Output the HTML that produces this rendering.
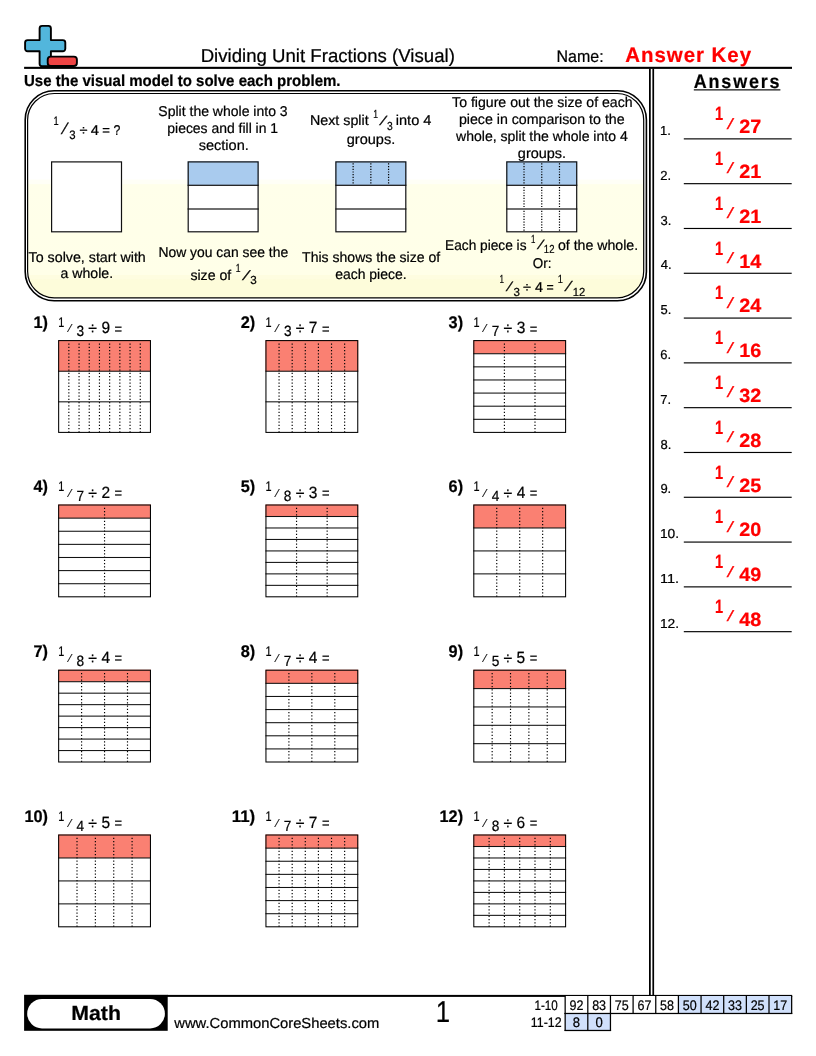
<!DOCTYPE html>
<html lang="en"><head><meta charset="utf-8"><title>Dividing Unit Fractions (Visual)</title>
<style>
html,body{margin:0;padding:0;background:#fff}
svg{display:block;font-family:"Liberation Sans",sans-serif;fill:#000}
text{white-space:pre;stroke:#000;stroke-width:.22px;text-rendering:geometricPrecision}
text.r{stroke:#f00}
</style></head><body>
<svg width="816" height="1056" viewBox="0 0 816 1056">
<rect width="816" height="1056" fill="#fff"/>
<g stroke="#000" stroke-width="1.9" stroke-linejoin="round">
<path fill="#52b6dc" d="M42.1 25.9h6.3a2.5 2.5 0 0 1 2.5 2.5v11.7h11.9a2.5 2.5 0 0 1 2.5 2.5v6.2a2.5 2.5 0 0 1 -2.5 2.5h-11.9v12.5a2.5 2.5 0 0 1 -2.5 2.5h-6.3a2.5 2.5 0 0 1 -2.5 -2.5v-12.5h-12a2.5 2.5 0 0 1 -2.5 -2.5v-6.2a2.5 2.5 0 0 1 2.5 -2.5h12v-11.7a2.5 2.5 0 0 1 2.5 -2.5z"/>
<rect x="47.7" y="56.6" width="29.2" height="9.4" rx="3" ry="3" fill="#ee4444"/>
</g>
<rect x="24.10" y="66.80" width="767.90" height="2.10" fill="#000"/>
<text x="200.67" y="61.70" font-size="18.70" textLength="254.18" lengthAdjust="spacingAndGlyphs">Dividing Unit Fractions (Visual)</text>
<text x="556.59" y="61.60" font-size="16.80" textLength="47.07" lengthAdjust="spacingAndGlyphs">Name:</text>
<text x="625.19" y="61.60" font-size="21.00" font-weight="700" fill="#f00" class="r" letter-spacing="1.00" textLength="126.89" lengthAdjust="spacingAndGlyphs">Answer Key</text>
<text x="24.00" y="85.50" font-size="15.90" font-weight="700" textLength="316.54" lengthAdjust="spacingAndGlyphs">Use the visual model to solve each problem.</text>
<text x="693.75" y="87.60" font-size="19.50" font-weight="700" letter-spacing="2.00" textLength="87.62" lengthAdjust="spacingAndGlyphs">Answers</text>
<rect x="693.80" y="89.30" width="86.60" height="1.15" fill="#000"/>
<rect x="649.00" y="68.50" width="1.75" height="927.00" fill="#000"/>
<rect x="652.40" y="68.50" width="1.70" height="927.00" fill="#000"/>
<defs><linearGradient id="eg" gradientUnits="userSpaceOnUse" x1="0" y1="93" x2="0" y2="298"><stop offset="0" stop-color="#fff"/><stop offset="0.420" stop-color="#fff"/><stop offset="0.424" stop-color="#fffff6"/><stop offset="0.443" stop-color="#fffff6"/><stop offset="0.447" stop-color="#ffffea"/><stop offset="0.886" stop-color="#ffffe8"/><stop offset="0.890" stop-color="#fefde0"/><stop offset="0.907" stop-color="#fefde0"/><stop offset="0.911" stop-color="#fdfcda"/><stop offset="1" stop-color="#fdfcda"/></linearGradient></defs>
<rect x="25.2" y="90.8" width="621.2" height="209.9" rx="29" ry="29" fill="#fff" stroke="#000" stroke-width="1.6"/>
<rect x="27.6" y="93.5" width="616.1" height="204.3" rx="26.6" ry="26.6" fill="url(#eg)" stroke="#000" stroke-width="1.2"/>
<rect x="51.00" y="161.30" width="71.10" height="71.10" fill="#fff"/>
<rect x="51.60" y="161.90" width="69.90" height="69.90" fill="none" stroke="#111" stroke-width="1.2"/>
<rect x="187.60" y="161.30" width="71.10" height="71.10" fill="#fff"/>
<rect x="187.60" y="161.30" width="71.10" height="23.70" fill="#a9cbee"/>
<rect x="188.20" y="161.90" width="69.90" height="69.90" fill="none" stroke="#111" stroke-width="1.2"/>
<rect x="187.60" y="184.70" width="71.10" height="1.20" fill="#111"/>
<rect x="187.60" y="208.40" width="71.10" height="1.20" fill="#111"/>
<rect x="335.30" y="161.30" width="71.10" height="71.10" fill="#fff"/>
<rect x="335.30" y="161.30" width="71.10" height="23.70" fill="#a9cbee"/>
<line x1="353.13" y1="163.30" x2="353.13" y2="184.70" stroke="#000" stroke-width="1.2" stroke-dasharray="1.2 1.5"/>
<line x1="370.85" y1="163.30" x2="370.85" y2="184.70" stroke="#000" stroke-width="1.2" stroke-dasharray="1.2 1.5"/>
<line x1="388.58" y1="163.30" x2="388.58" y2="184.70" stroke="#000" stroke-width="1.2" stroke-dasharray="1.2 1.5"/>
<rect x="335.90" y="161.90" width="69.90" height="69.90" fill="none" stroke="#111" stroke-width="1.2"/>
<rect x="335.30" y="184.70" width="71.10" height="1.20" fill="#111"/>
<rect x="335.30" y="208.40" width="71.10" height="1.20" fill="#111"/>
<rect x="506.20" y="161.30" width="71.10" height="71.10" fill="#fff"/>
<rect x="506.20" y="161.30" width="71.10" height="23.70" fill="#a9cbee"/>
<line x1="524.02" y1="163.30" x2="524.02" y2="184.70" stroke="#000" stroke-width="1.2" stroke-dasharray="1.2 1.5"/>
<line x1="541.75" y1="163.30" x2="541.75" y2="184.70" stroke="#000" stroke-width="1.2" stroke-dasharray="1.2 1.5"/>
<line x1="559.48" y1="163.30" x2="559.48" y2="184.70" stroke="#000" stroke-width="1.2" stroke-dasharray="1.2 1.5"/>
<line x1="524.02" y1="187.00" x2="524.02" y2="208.40" stroke="#000" stroke-width="1.2" stroke-dasharray="1.2 1.5"/>
<line x1="541.75" y1="187.00" x2="541.75" y2="208.40" stroke="#000" stroke-width="1.2" stroke-dasharray="1.2 1.5"/>
<line x1="559.48" y1="187.00" x2="559.48" y2="208.40" stroke="#000" stroke-width="1.2" stroke-dasharray="1.2 1.5"/>
<line x1="524.02" y1="210.70" x2="524.02" y2="232.10" stroke="#000" stroke-width="1.2" stroke-dasharray="1.2 1.5"/>
<line x1="541.75" y1="210.70" x2="541.75" y2="232.10" stroke="#000" stroke-width="1.2" stroke-dasharray="1.2 1.5"/>
<line x1="559.48" y1="210.70" x2="559.48" y2="232.10" stroke="#000" stroke-width="1.2" stroke-dasharray="1.2 1.5"/>
<rect x="506.80" y="161.90" width="69.90" height="69.90" fill="none" stroke="#111" stroke-width="1.2"/>
<rect x="506.20" y="184.70" width="71.10" height="1.20" fill="#111"/>
<rect x="506.20" y="208.40" width="71.10" height="1.20" fill="#111"/>
<text x="53.39" y="124.80" font-size="12.20" textLength="5.16" lengthAdjust="spacingAndGlyphs">1</text>
<text transform="translate(60.80,133.70) scale(0.964,1)" x="3.37" y="0" font-size="16.57" style="stroke:#000;stroke-width:0.3px">⁄</text>
<text x="69.37" y="138.90" font-size="12.20" textLength="6.33" lengthAdjust="spacingAndGlyphs">3</text>
<text x="79.44" y="134.50" font-size="14.20" textLength="8.02" lengthAdjust="spacingAndGlyphs">÷</text>
<text x="90.76" y="134.50" font-size="14.20" textLength="8.17" lengthAdjust="spacingAndGlyphs">4</text>
<text x="102.26" y="134.50" font-size="14.20" textLength="7.69" lengthAdjust="spacingAndGlyphs">=</text>
<text x="113.39" y="134.50" font-size="14.20" textLength="6.86" lengthAdjust="spacingAndGlyphs">?</text>
<text x="28.58" y="261.80" font-size="14.20" textLength="117.23" lengthAdjust="spacingAndGlyphs">To solve, start with</text>
<text x="60.60" y="278.40" font-size="14.20" textLength="52.49" lengthAdjust="spacingAndGlyphs">a whole.</text>
<text x="158.36" y="115.70" font-size="14.20" textLength="129.25" lengthAdjust="spacingAndGlyphs">Split the whole into 3</text>
<text x="167.30" y="132.70" font-size="14.20" textLength="110.78" lengthAdjust="spacingAndGlyphs">pieces and fill in 1</text>
<text x="198.70" y="149.80" font-size="14.20" textLength="50.13" lengthAdjust="spacingAndGlyphs">section.</text>
<text x="158.46" y="257.00" font-size="14.20" textLength="129.66" lengthAdjust="spacingAndGlyphs">Now you can see the</text>
<text x="190.41" y="280.00" font-size="14.20" textLength="40.82" lengthAdjust="spacingAndGlyphs">size of</text>
<text x="235.75" y="271.80" font-size="11.70" textLength="4.77" lengthAdjust="spacingAndGlyphs">1</text>
<text transform="translate(241.90,280.00) scale(1.246,1)" x="2.86" y="0" font-size="14.10" style="stroke:#000;stroke-width:0.3px">⁄</text>
<text x="250.25" y="284.20" font-size="11.70" textLength="6.51" lengthAdjust="spacingAndGlyphs">3</text>
<text x="310.03" y="125.30" font-size="14.20" textLength="58.57" lengthAdjust="spacingAndGlyphs">Next split</text>
<text x="373.35" y="118.00" font-size="11.70" textLength="4.77" lengthAdjust="spacingAndGlyphs">1</text>
<text transform="translate(379.20,125.30) scale(1.239,1)" x="2.72" y="0" font-size="13.37" style="stroke:#000;stroke-width:0.3px">⁄</text>
<text x="387.11" y="129.80" font-size="11.70" textLength="5.75" lengthAdjust="spacingAndGlyphs">3</text>
<text x="395.72" y="125.30" font-size="14.20" textLength="35.70" lengthAdjust="spacingAndGlyphs">into 4</text>
<text x="346.79" y="144.30" font-size="14.20" textLength="48.44" lengthAdjust="spacingAndGlyphs">groups.</text>
<text x="302.08" y="261.70" font-size="14.20" textLength="138.09" lengthAdjust="spacingAndGlyphs">This shows the size of</text>
<text x="335.21" y="278.60" font-size="14.20" textLength="71.37" lengthAdjust="spacingAndGlyphs">each piece.</text>
<text x="452.09" y="107.20" font-size="14.20" textLength="180.52" lengthAdjust="spacingAndGlyphs">To figure out the size of each</text>
<text x="458.88" y="124.00" font-size="14.20" textLength="165.75" lengthAdjust="spacingAndGlyphs">piece in comparison to the</text>
<text x="456.02" y="140.80" font-size="14.20" textLength="171.69" lengthAdjust="spacingAndGlyphs">whole, split the whole into 4</text>
<text x="517.89" y="157.50" font-size="14.20" textLength="48.23" lengthAdjust="spacingAndGlyphs">groups.</text>
<text x="445.08" y="250.00" font-size="14.20" textLength="81.42" lengthAdjust="spacingAndGlyphs">Each piece is</text>
<text x="531.00" y="243.00" font-size="11.70" textLength="4.39" lengthAdjust="spacingAndGlyphs">1</text>
<text transform="translate(536.80,249.40) scale(1.152,1)" x="2.75" y="0" font-size="13.52" style="stroke:#000;stroke-width:0.3px">⁄</text>
<text x="543.87" y="252.60" font-size="11.70" textLength="10.61" lengthAdjust="spacingAndGlyphs">12</text>
<text x="557.91" y="250.00" font-size="14.20" textLength="80.18" lengthAdjust="spacingAndGlyphs">of the whole.</text>
<text x="532.86" y="268.00" font-size="14.20" textLength="18.66" lengthAdjust="spacingAndGlyphs">Or:</text>
<text x="499.58" y="283.30" font-size="11.70" textLength="4.51" lengthAdjust="spacingAndGlyphs">1</text>
<text transform="translate(505.60,290.90) scale(1.096,1)" x="2.78" y="0" font-size="13.66" style="stroke:#000;stroke-width:0.3px">⁄</text>
<text x="513.56" y="295.70" font-size="11.70" textLength="6.45" lengthAdjust="spacingAndGlyphs">3</text>
<text x="523.14" y="291.60" font-size="14.20" textLength="8.02" lengthAdjust="spacingAndGlyphs">÷</text>
<text x="534.97" y="291.60" font-size="14.20" textLength="7.95" lengthAdjust="spacingAndGlyphs">4</text>
<text x="546.40" y="291.60" font-size="14.20" textLength="7.21" lengthAdjust="spacingAndGlyphs">=</text>
<text x="557.79" y="283.40" font-size="11.70" textLength="5.16" lengthAdjust="spacingAndGlyphs">1</text>
<text transform="translate(564.40,291.30) scale(1.154,1)" x="2.95" y="0" font-size="14.54" style="stroke:#000;stroke-width:0.3px">⁄</text>
<text x="572.64" y="295.70" font-size="11.70" textLength="12.52" lengthAdjust="spacingAndGlyphs">12</text>
<rect x="58.15" y="340.10" width="92.80" height="92.80" fill="#fff"/>
<rect x="58.15" y="340.10" width="92.80" height="31.10" fill="#fa8072"/>
<line x1="68.85" y1="343.40" x2="68.85" y2="432.40" stroke="#000" stroke-width="1.15" stroke-dasharray="1.3 1.95"/>
<line x1="79.05" y1="343.40" x2="79.05" y2="432.40" stroke="#000" stroke-width="1.15" stroke-dasharray="1.3 1.95"/>
<line x1="89.25" y1="343.40" x2="89.25" y2="432.40" stroke="#000" stroke-width="1.15" stroke-dasharray="1.3 1.95"/>
<line x1="99.45" y1="343.40" x2="99.45" y2="432.40" stroke="#000" stroke-width="1.15" stroke-dasharray="1.3 1.95"/>
<line x1="109.65" y1="343.40" x2="109.65" y2="432.40" stroke="#000" stroke-width="1.15" stroke-dasharray="1.3 1.95"/>
<line x1="119.85" y1="343.40" x2="119.85" y2="432.40" stroke="#000" stroke-width="1.15" stroke-dasharray="1.3 1.95"/>
<line x1="130.05" y1="343.40" x2="130.05" y2="432.40" stroke="#000" stroke-width="1.15" stroke-dasharray="1.3 1.95"/>
<line x1="140.25" y1="343.40" x2="140.25" y2="432.40" stroke="#000" stroke-width="1.15" stroke-dasharray="1.3 1.95"/>
<rect x="58.15" y="370.70" width="92.80" height="1.05" fill="#111"/>
<rect x="58.15" y="401.30" width="92.80" height="1.05" fill="#111"/>
<rect x="58.65" y="340.60" width="91.80" height="91.80" fill="none" stroke="#000" stroke-width="1.05"/>
<text x="33.47" y="327.60" font-size="16.80" font-weight="700" textLength="14.49" lengthAdjust="spacingAndGlyphs">1)</text>
<text x="58.32" y="326.70" font-size="14.00" textLength="6.06" lengthAdjust="spacingAndGlyphs">1</text>
<text transform="translate(67.05,332.40) scale(0.910,1)" x="2.36" y="0" font-size="11.63" style="stroke:#000;stroke-width:0.2px">⁄</text>
<text x="76.58" y="336.20" font-size="14.90" textLength="7.62" lengthAdjust="spacingAndGlyphs">3</text>
<text x="88.35" y="334.15" font-size="17.00" textLength="8.70" lengthAdjust="spacingAndGlyphs">÷</text>
<text x="101.45" y="333.30" font-size="16.30" textLength="8.61" lengthAdjust="spacingAndGlyphs">9</text>
<text x="114.62" y="333.50" font-size="15.00" textLength="7.57" lengthAdjust="spacingAndGlyphs">=</text>
<rect x="265.45" y="340.10" width="92.80" height="92.80" fill="#fff"/>
<rect x="265.45" y="340.10" width="92.80" height="31.10" fill="#fa8072"/>
<line x1="279.06" y1="343.40" x2="279.06" y2="432.40" stroke="#000" stroke-width="1.15" stroke-dasharray="1.3 1.95"/>
<line x1="292.18" y1="343.40" x2="292.18" y2="432.40" stroke="#000" stroke-width="1.15" stroke-dasharray="1.3 1.95"/>
<line x1="305.29" y1="343.40" x2="305.29" y2="432.40" stroke="#000" stroke-width="1.15" stroke-dasharray="1.3 1.95"/>
<line x1="318.41" y1="343.40" x2="318.41" y2="432.40" stroke="#000" stroke-width="1.15" stroke-dasharray="1.3 1.95"/>
<line x1="331.52" y1="343.40" x2="331.52" y2="432.40" stroke="#000" stroke-width="1.15" stroke-dasharray="1.3 1.95"/>
<line x1="344.64" y1="343.40" x2="344.64" y2="432.40" stroke="#000" stroke-width="1.15" stroke-dasharray="1.3 1.95"/>
<rect x="265.45" y="370.70" width="92.80" height="1.05" fill="#111"/>
<rect x="265.45" y="401.30" width="92.80" height="1.05" fill="#111"/>
<rect x="265.95" y="340.60" width="91.80" height="91.80" fill="none" stroke="#000" stroke-width="1.05"/>
<text x="240.77" y="327.60" font-size="16.80" font-weight="700" textLength="14.49" lengthAdjust="spacingAndGlyphs">2)</text>
<text x="265.62" y="326.70" font-size="14.00" textLength="6.06" lengthAdjust="spacingAndGlyphs">1</text>
<text transform="translate(274.35,332.40) scale(0.910,1)" x="2.36" y="0" font-size="11.63" style="stroke:#000;stroke-width:0.2px">⁄</text>
<text x="283.88" y="336.20" font-size="14.90" textLength="7.62" lengthAdjust="spacingAndGlyphs">3</text>
<text x="295.65" y="334.15" font-size="17.00" textLength="8.70" lengthAdjust="spacingAndGlyphs">÷</text>
<text x="308.74" y="333.30" font-size="16.30" textLength="8.61" lengthAdjust="spacingAndGlyphs">7</text>
<text x="321.92" y="333.50" font-size="15.00" textLength="7.57" lengthAdjust="spacingAndGlyphs">=</text>
<rect x="473.30" y="340.10" width="92.80" height="92.80" fill="#fff"/>
<rect x="473.30" y="340.10" width="92.80" height="13.61" fill="#fa8072"/>
<line x1="504.40" y1="343.40" x2="504.40" y2="432.40" stroke="#000" stroke-width="1.15" stroke-dasharray="1.3 1.95"/>
<line x1="535.00" y1="343.40" x2="535.00" y2="432.40" stroke="#000" stroke-width="1.15" stroke-dasharray="1.3 1.95"/>
<rect x="473.30" y="353.21" width="92.80" height="1.05" fill="#111"/>
<rect x="473.30" y="366.33" width="92.80" height="1.05" fill="#111"/>
<rect x="473.30" y="379.44" width="92.80" height="1.05" fill="#111"/>
<rect x="473.30" y="392.56" width="92.80" height="1.05" fill="#111"/>
<rect x="473.30" y="405.67" width="92.80" height="1.05" fill="#111"/>
<rect x="473.30" y="418.79" width="92.80" height="1.05" fill="#111"/>
<rect x="473.80" y="340.60" width="91.80" height="91.80" fill="none" stroke="#000" stroke-width="1.05"/>
<text x="448.62" y="327.60" font-size="16.80" font-weight="700" textLength="14.49" lengthAdjust="spacingAndGlyphs">3)</text>
<text x="473.47" y="326.70" font-size="14.00" textLength="6.06" lengthAdjust="spacingAndGlyphs">1</text>
<text transform="translate(482.20,332.40) scale(0.910,1)" x="2.36" y="0" font-size="11.63" style="stroke:#000;stroke-width:0.2px">⁄</text>
<text x="491.68" y="336.20" font-size="14.90" textLength="7.62" lengthAdjust="spacingAndGlyphs">7</text>
<text x="503.50" y="334.15" font-size="17.00" textLength="8.70" lengthAdjust="spacingAndGlyphs">÷</text>
<text x="516.64" y="333.30" font-size="16.30" textLength="8.61" lengthAdjust="spacingAndGlyphs">3</text>
<text x="529.77" y="333.50" font-size="15.00" textLength="7.57" lengthAdjust="spacingAndGlyphs">=</text>
<rect x="58.15" y="504.50" width="92.80" height="92.80" fill="#fff"/>
<rect x="58.15" y="504.50" width="92.80" height="13.61" fill="#fa8072"/>
<line x1="104.55" y1="507.80" x2="104.55" y2="596.80" stroke="#000" stroke-width="1.15" stroke-dasharray="1.3 1.95"/>
<rect x="58.15" y="517.61" width="92.80" height="1.05" fill="#111"/>
<rect x="58.15" y="530.73" width="92.80" height="1.05" fill="#111"/>
<rect x="58.15" y="543.84" width="92.80" height="1.05" fill="#111"/>
<rect x="58.15" y="556.96" width="92.80" height="1.05" fill="#111"/>
<rect x="58.15" y="570.07" width="92.80" height="1.05" fill="#111"/>
<rect x="58.15" y="583.19" width="92.80" height="1.05" fill="#111"/>
<rect x="58.65" y="505.00" width="91.80" height="91.80" fill="none" stroke="#000" stroke-width="1.05"/>
<text x="33.47" y="492.00" font-size="16.80" font-weight="700" textLength="14.49" lengthAdjust="spacingAndGlyphs">4)</text>
<text x="58.32" y="491.10" font-size="14.00" textLength="6.06" lengthAdjust="spacingAndGlyphs">1</text>
<text transform="translate(67.05,496.80) scale(0.910,1)" x="2.36" y="0" font-size="11.63" style="stroke:#000;stroke-width:0.2px">⁄</text>
<text x="76.53" y="500.60" font-size="14.90" textLength="7.62" lengthAdjust="spacingAndGlyphs">7</text>
<text x="88.35" y="498.55" font-size="17.00" textLength="8.70" lengthAdjust="spacingAndGlyphs">÷</text>
<text x="101.44" y="497.70" font-size="16.30" textLength="8.61" lengthAdjust="spacingAndGlyphs">2</text>
<text x="114.62" y="497.90" font-size="15.00" textLength="7.57" lengthAdjust="spacingAndGlyphs">=</text>
<rect x="265.45" y="504.50" width="92.80" height="92.80" fill="#fff"/>
<rect x="265.45" y="504.50" width="92.80" height="11.97" fill="#fa8072"/>
<line x1="296.55" y1="507.80" x2="296.55" y2="596.80" stroke="#000" stroke-width="1.15" stroke-dasharray="1.3 1.95"/>
<line x1="327.15" y1="507.80" x2="327.15" y2="596.80" stroke="#000" stroke-width="1.15" stroke-dasharray="1.3 1.95"/>
<rect x="265.45" y="515.98" width="92.80" height="1.05" fill="#111"/>
<rect x="265.45" y="527.45" width="92.80" height="1.05" fill="#111"/>
<rect x="265.45" y="538.92" width="92.80" height="1.05" fill="#111"/>
<rect x="265.45" y="550.40" width="92.80" height="1.05" fill="#111"/>
<rect x="265.45" y="561.88" width="92.80" height="1.05" fill="#111"/>
<rect x="265.45" y="573.35" width="92.80" height="1.05" fill="#111"/>
<rect x="265.45" y="584.83" width="92.80" height="1.05" fill="#111"/>
<rect x="265.95" y="505.00" width="91.80" height="91.80" fill="none" stroke="#000" stroke-width="1.05"/>
<text x="240.77" y="492.00" font-size="16.80" font-weight="700" textLength="14.49" lengthAdjust="spacingAndGlyphs">5)</text>
<text x="265.62" y="491.10" font-size="14.00" textLength="6.06" lengthAdjust="spacingAndGlyphs">1</text>
<text transform="translate(274.35,496.80) scale(0.910,1)" x="2.36" y="0" font-size="11.63" style="stroke:#000;stroke-width:0.2px">⁄</text>
<text x="283.84" y="500.60" font-size="14.90" textLength="7.62" lengthAdjust="spacingAndGlyphs">8</text>
<text x="295.65" y="498.55" font-size="17.00" textLength="8.70" lengthAdjust="spacingAndGlyphs">÷</text>
<text x="308.79" y="497.70" font-size="16.30" textLength="8.61" lengthAdjust="spacingAndGlyphs">3</text>
<text x="321.92" y="497.90" font-size="15.00" textLength="7.57" lengthAdjust="spacingAndGlyphs">=</text>
<rect x="473.30" y="504.50" width="92.80" height="92.80" fill="#fff"/>
<rect x="473.30" y="504.50" width="92.80" height="23.45" fill="#fa8072"/>
<line x1="496.75" y1="507.80" x2="496.75" y2="596.80" stroke="#000" stroke-width="1.15" stroke-dasharray="1.3 1.95"/>
<line x1="519.70" y1="507.80" x2="519.70" y2="596.80" stroke="#000" stroke-width="1.15" stroke-dasharray="1.3 1.95"/>
<line x1="542.65" y1="507.80" x2="542.65" y2="596.80" stroke="#000" stroke-width="1.15" stroke-dasharray="1.3 1.95"/>
<rect x="473.30" y="527.45" width="92.80" height="1.05" fill="#111"/>
<rect x="473.30" y="550.40" width="92.80" height="1.05" fill="#111"/>
<rect x="473.30" y="573.35" width="92.80" height="1.05" fill="#111"/>
<rect x="473.80" y="505.00" width="91.80" height="91.80" fill="none" stroke="#000" stroke-width="1.05"/>
<text x="448.62" y="492.00" font-size="16.80" font-weight="700" textLength="14.49" lengthAdjust="spacingAndGlyphs">6)</text>
<text x="473.47" y="491.10" font-size="14.00" textLength="6.06" lengthAdjust="spacingAndGlyphs">1</text>
<text transform="translate(482.20,496.80) scale(0.910,1)" x="2.36" y="0" font-size="11.63" style="stroke:#000;stroke-width:0.2px">⁄</text>
<text x="491.73" y="500.60" font-size="14.90" textLength="7.62" lengthAdjust="spacingAndGlyphs">4</text>
<text x="503.50" y="498.55" font-size="17.00" textLength="8.70" lengthAdjust="spacingAndGlyphs">÷</text>
<text x="516.64" y="497.70" font-size="16.30" textLength="8.61" lengthAdjust="spacingAndGlyphs">4</text>
<text x="529.77" y="497.90" font-size="15.00" textLength="7.57" lengthAdjust="spacingAndGlyphs">=</text>
<rect x="58.15" y="669.70" width="92.80" height="92.80" fill="#fff"/>
<rect x="58.15" y="669.70" width="92.80" height="11.97" fill="#fa8072"/>
<line x1="81.60" y1="673.00" x2="81.60" y2="762.00" stroke="#000" stroke-width="1.15" stroke-dasharray="1.3 1.95"/>
<line x1="104.55" y1="673.00" x2="104.55" y2="762.00" stroke="#000" stroke-width="1.15" stroke-dasharray="1.3 1.95"/>
<line x1="127.50" y1="673.00" x2="127.50" y2="762.00" stroke="#000" stroke-width="1.15" stroke-dasharray="1.3 1.95"/>
<rect x="58.15" y="681.18" width="92.80" height="1.05" fill="#111"/>
<rect x="58.15" y="692.65" width="92.80" height="1.05" fill="#111"/>
<rect x="58.15" y="704.12" width="92.80" height="1.05" fill="#111"/>
<rect x="58.15" y="715.60" width="92.80" height="1.05" fill="#111"/>
<rect x="58.15" y="727.08" width="92.80" height="1.05" fill="#111"/>
<rect x="58.15" y="738.55" width="92.80" height="1.05" fill="#111"/>
<rect x="58.15" y="750.03" width="92.80" height="1.05" fill="#111"/>
<rect x="58.65" y="670.20" width="91.80" height="91.80" fill="none" stroke="#000" stroke-width="1.05"/>
<text x="33.47" y="657.20" font-size="16.80" font-weight="700" textLength="14.49" lengthAdjust="spacingAndGlyphs">7)</text>
<text x="58.32" y="656.30" font-size="14.00" textLength="6.06" lengthAdjust="spacingAndGlyphs">1</text>
<text transform="translate(67.05,662.00) scale(0.910,1)" x="2.36" y="0" font-size="11.63" style="stroke:#000;stroke-width:0.2px">⁄</text>
<text x="76.54" y="665.80" font-size="14.90" textLength="7.62" lengthAdjust="spacingAndGlyphs">8</text>
<text x="88.35" y="663.75" font-size="17.00" textLength="8.70" lengthAdjust="spacingAndGlyphs">÷</text>
<text x="101.49" y="662.90" font-size="16.30" textLength="8.61" lengthAdjust="spacingAndGlyphs">4</text>
<text x="114.62" y="663.10" font-size="15.00" textLength="7.57" lengthAdjust="spacingAndGlyphs">=</text>
<rect x="265.45" y="669.70" width="92.80" height="92.80" fill="#fff"/>
<rect x="265.45" y="669.70" width="92.80" height="13.61" fill="#fa8072"/>
<line x1="288.90" y1="673.00" x2="288.90" y2="762.00" stroke="#000" stroke-width="1.15" stroke-dasharray="1.3 1.95"/>
<line x1="311.85" y1="673.00" x2="311.85" y2="762.00" stroke="#000" stroke-width="1.15" stroke-dasharray="1.3 1.95"/>
<line x1="334.80" y1="673.00" x2="334.80" y2="762.00" stroke="#000" stroke-width="1.15" stroke-dasharray="1.3 1.95"/>
<rect x="265.45" y="682.81" width="92.80" height="1.05" fill="#111"/>
<rect x="265.45" y="695.93" width="92.80" height="1.05" fill="#111"/>
<rect x="265.45" y="709.04" width="92.80" height="1.05" fill="#111"/>
<rect x="265.45" y="722.16" width="92.80" height="1.05" fill="#111"/>
<rect x="265.45" y="735.27" width="92.80" height="1.05" fill="#111"/>
<rect x="265.45" y="748.39" width="92.80" height="1.05" fill="#111"/>
<rect x="265.95" y="670.20" width="91.80" height="91.80" fill="none" stroke="#000" stroke-width="1.05"/>
<text x="240.77" y="657.20" font-size="16.80" font-weight="700" textLength="14.49" lengthAdjust="spacingAndGlyphs">8)</text>
<text x="265.62" y="656.30" font-size="14.00" textLength="6.06" lengthAdjust="spacingAndGlyphs">1</text>
<text transform="translate(274.35,662.00) scale(0.910,1)" x="2.36" y="0" font-size="11.63" style="stroke:#000;stroke-width:0.2px">⁄</text>
<text x="283.83" y="665.80" font-size="14.90" textLength="7.62" lengthAdjust="spacingAndGlyphs">7</text>
<text x="295.65" y="663.75" font-size="17.00" textLength="8.70" lengthAdjust="spacingAndGlyphs">÷</text>
<text x="308.79" y="662.90" font-size="16.30" textLength="8.61" lengthAdjust="spacingAndGlyphs">4</text>
<text x="321.92" y="663.10" font-size="15.00" textLength="7.57" lengthAdjust="spacingAndGlyphs">=</text>
<rect x="473.30" y="669.70" width="92.80" height="92.80" fill="#fff"/>
<rect x="473.30" y="669.70" width="92.80" height="18.86" fill="#fa8072"/>
<line x1="492.16" y1="673.00" x2="492.16" y2="762.00" stroke="#000" stroke-width="1.15" stroke-dasharray="1.3 1.95"/>
<line x1="510.52" y1="673.00" x2="510.52" y2="762.00" stroke="#000" stroke-width="1.15" stroke-dasharray="1.3 1.95"/>
<line x1="528.88" y1="673.00" x2="528.88" y2="762.00" stroke="#000" stroke-width="1.15" stroke-dasharray="1.3 1.95"/>
<line x1="547.24" y1="673.00" x2="547.24" y2="762.00" stroke="#000" stroke-width="1.15" stroke-dasharray="1.3 1.95"/>
<rect x="473.30" y="688.06" width="92.80" height="1.05" fill="#111"/>
<rect x="473.30" y="706.42" width="92.80" height="1.05" fill="#111"/>
<rect x="473.30" y="724.78" width="92.80" height="1.05" fill="#111"/>
<rect x="473.30" y="743.14" width="92.80" height="1.05" fill="#111"/>
<rect x="473.80" y="670.20" width="91.80" height="91.80" fill="none" stroke="#000" stroke-width="1.05"/>
<text x="448.62" y="657.20" font-size="16.80" font-weight="700" textLength="14.49" lengthAdjust="spacingAndGlyphs">9)</text>
<text x="473.47" y="656.30" font-size="14.00" textLength="6.06" lengthAdjust="spacingAndGlyphs">1</text>
<text transform="translate(482.20,662.00) scale(0.910,1)" x="2.36" y="0" font-size="11.63" style="stroke:#000;stroke-width:0.2px">⁄</text>
<text x="491.70" y="665.80" font-size="14.90" textLength="7.62" lengthAdjust="spacingAndGlyphs">5</text>
<text x="503.50" y="663.75" font-size="17.00" textLength="8.70" lengthAdjust="spacingAndGlyphs">÷</text>
<text x="516.61" y="662.90" font-size="16.30" textLength="8.61" lengthAdjust="spacingAndGlyphs">5</text>
<text x="529.77" y="663.10" font-size="15.00" textLength="7.57" lengthAdjust="spacingAndGlyphs">=</text>
<rect x="58.15" y="834.50" width="92.80" height="92.80" fill="#fff"/>
<rect x="58.15" y="834.50" width="92.80" height="23.45" fill="#fa8072"/>
<line x1="77.01" y1="837.80" x2="77.01" y2="926.80" stroke="#000" stroke-width="1.15" stroke-dasharray="1.3 1.95"/>
<line x1="95.37" y1="837.80" x2="95.37" y2="926.80" stroke="#000" stroke-width="1.15" stroke-dasharray="1.3 1.95"/>
<line x1="113.73" y1="837.80" x2="113.73" y2="926.80" stroke="#000" stroke-width="1.15" stroke-dasharray="1.3 1.95"/>
<line x1="132.09" y1="837.80" x2="132.09" y2="926.80" stroke="#000" stroke-width="1.15" stroke-dasharray="1.3 1.95"/>
<rect x="58.15" y="857.45" width="92.80" height="1.05" fill="#111"/>
<rect x="58.15" y="880.40" width="92.80" height="1.05" fill="#111"/>
<rect x="58.15" y="903.35" width="92.80" height="1.05" fill="#111"/>
<rect x="58.65" y="835.00" width="91.80" height="91.80" fill="none" stroke="#000" stroke-width="1.05"/>
<text x="24.41" y="822.00" font-size="16.80" font-weight="700" textLength="23.55" lengthAdjust="spacingAndGlyphs">10)</text>
<text x="58.32" y="821.10" font-size="14.00" textLength="6.06" lengthAdjust="spacingAndGlyphs">1</text>
<text transform="translate(67.05,826.80) scale(0.910,1)" x="2.36" y="0" font-size="11.63" style="stroke:#000;stroke-width:0.2px">⁄</text>
<text x="76.58" y="830.60" font-size="14.90" textLength="7.62" lengthAdjust="spacingAndGlyphs">4</text>
<text x="88.35" y="828.55" font-size="17.00" textLength="8.70" lengthAdjust="spacingAndGlyphs">÷</text>
<text x="101.46" y="827.70" font-size="16.30" textLength="8.61" lengthAdjust="spacingAndGlyphs">5</text>
<text x="114.62" y="827.90" font-size="15.00" textLength="7.57" lengthAdjust="spacingAndGlyphs">=</text>
<rect x="265.45" y="834.50" width="92.80" height="92.80" fill="#fff"/>
<rect x="265.45" y="834.50" width="92.80" height="13.61" fill="#fa8072"/>
<line x1="279.06" y1="837.80" x2="279.06" y2="926.80" stroke="#000" stroke-width="1.15" stroke-dasharray="1.3 1.95"/>
<line x1="292.18" y1="837.80" x2="292.18" y2="926.80" stroke="#000" stroke-width="1.15" stroke-dasharray="1.3 1.95"/>
<line x1="305.29" y1="837.80" x2="305.29" y2="926.80" stroke="#000" stroke-width="1.15" stroke-dasharray="1.3 1.95"/>
<line x1="318.41" y1="837.80" x2="318.41" y2="926.80" stroke="#000" stroke-width="1.15" stroke-dasharray="1.3 1.95"/>
<line x1="331.52" y1="837.80" x2="331.52" y2="926.80" stroke="#000" stroke-width="1.15" stroke-dasharray="1.3 1.95"/>
<line x1="344.64" y1="837.80" x2="344.64" y2="926.80" stroke="#000" stroke-width="1.15" stroke-dasharray="1.3 1.95"/>
<rect x="265.45" y="847.61" width="92.80" height="1.05" fill="#111"/>
<rect x="265.45" y="860.73" width="92.80" height="1.05" fill="#111"/>
<rect x="265.45" y="873.84" width="92.80" height="1.05" fill="#111"/>
<rect x="265.45" y="886.96" width="92.80" height="1.05" fill="#111"/>
<rect x="265.45" y="900.07" width="92.80" height="1.05" fill="#111"/>
<rect x="265.45" y="913.19" width="92.80" height="1.05" fill="#111"/>
<rect x="265.95" y="835.00" width="91.80" height="91.80" fill="none" stroke="#000" stroke-width="1.05"/>
<text x="231.71" y="822.00" font-size="16.80" font-weight="700" textLength="23.55" lengthAdjust="spacingAndGlyphs">11)</text>
<text x="265.62" y="821.10" font-size="14.00" textLength="6.06" lengthAdjust="spacingAndGlyphs">1</text>
<text transform="translate(274.35,826.80) scale(0.910,1)" x="2.36" y="0" font-size="11.63" style="stroke:#000;stroke-width:0.2px">⁄</text>
<text x="283.83" y="830.60" font-size="14.90" textLength="7.62" lengthAdjust="spacingAndGlyphs">7</text>
<text x="295.65" y="828.55" font-size="17.00" textLength="8.70" lengthAdjust="spacingAndGlyphs">÷</text>
<text x="308.74" y="827.70" font-size="16.30" textLength="8.61" lengthAdjust="spacingAndGlyphs">7</text>
<text x="321.92" y="827.90" font-size="15.00" textLength="7.57" lengthAdjust="spacingAndGlyphs">=</text>
<rect x="473.30" y="834.50" width="92.80" height="92.80" fill="#fff"/>
<rect x="473.30" y="834.50" width="92.80" height="11.97" fill="#fa8072"/>
<line x1="489.10" y1="837.80" x2="489.10" y2="926.80" stroke="#000" stroke-width="1.15" stroke-dasharray="1.3 1.95"/>
<line x1="504.40" y1="837.80" x2="504.40" y2="926.80" stroke="#000" stroke-width="1.15" stroke-dasharray="1.3 1.95"/>
<line x1="519.70" y1="837.80" x2="519.70" y2="926.80" stroke="#000" stroke-width="1.15" stroke-dasharray="1.3 1.95"/>
<line x1="535.00" y1="837.80" x2="535.00" y2="926.80" stroke="#000" stroke-width="1.15" stroke-dasharray="1.3 1.95"/>
<line x1="550.30" y1="837.80" x2="550.30" y2="926.80" stroke="#000" stroke-width="1.15" stroke-dasharray="1.3 1.95"/>
<rect x="473.30" y="845.98" width="92.80" height="1.05" fill="#111"/>
<rect x="473.30" y="857.45" width="92.80" height="1.05" fill="#111"/>
<rect x="473.30" y="868.92" width="92.80" height="1.05" fill="#111"/>
<rect x="473.30" y="880.40" width="92.80" height="1.05" fill="#111"/>
<rect x="473.30" y="891.88" width="92.80" height="1.05" fill="#111"/>
<rect x="473.30" y="903.35" width="92.80" height="1.05" fill="#111"/>
<rect x="473.30" y="914.83" width="92.80" height="1.05" fill="#111"/>
<rect x="473.80" y="835.00" width="91.80" height="91.80" fill="none" stroke="#000" stroke-width="1.05"/>
<text x="439.56" y="822.00" font-size="16.80" font-weight="700" textLength="23.55" lengthAdjust="spacingAndGlyphs">12)</text>
<text x="473.47" y="821.10" font-size="14.00" textLength="6.06" lengthAdjust="spacingAndGlyphs">1</text>
<text transform="translate(482.20,826.80) scale(0.910,1)" x="2.36" y="0" font-size="11.63" style="stroke:#000;stroke-width:0.2px">⁄</text>
<text x="491.69" y="830.60" font-size="14.90" textLength="7.62" lengthAdjust="spacingAndGlyphs">8</text>
<text x="503.50" y="828.55" font-size="17.00" textLength="8.70" lengthAdjust="spacingAndGlyphs">÷</text>
<text x="516.54" y="827.70" font-size="16.30" textLength="8.61" lengthAdjust="spacingAndGlyphs">6</text>
<text x="529.77" y="827.90" font-size="15.00" textLength="7.57" lengthAdjust="spacingAndGlyphs">=</text>
<rect x="683.80" y="138.30" width="107.90" height="1.15" fill="#000"/>
<text x="660.01" y="134.95" font-size="13.00" textLength="10.84" lengthAdjust="spacingAndGlyphs">1.</text>
<text x="715.03" y="120.25" font-size="19.20" font-weight="700" fill="#f00" class="r" textLength="8.13" lengthAdjust="spacingAndGlyphs">1</text>
<text transform="translate(726.60,128.65) scale(0.889,1)" x="2.86" y="0" font-size="15.55" font-weight="700" fill="#f00" style="stroke:#f00;stroke-width:0.45px">⁄</text>
<text x="739.20" y="133.25" font-size="19.20" font-weight="700" fill="#f00" class="r" textLength="22.00" lengthAdjust="spacingAndGlyphs">27</text>
<rect x="683.80" y="183.10" width="107.90" height="1.15" fill="#000"/>
<text x="660.35" y="179.75" font-size="13.00" textLength="10.84" lengthAdjust="spacingAndGlyphs">2.</text>
<text x="715.03" y="165.05" font-size="19.20" font-weight="700" fill="#f00" class="r" textLength="8.13" lengthAdjust="spacingAndGlyphs">1</text>
<text transform="translate(726.60,173.45) scale(0.889,1)" x="2.86" y="0" font-size="15.55" font-weight="700" fill="#f00" style="stroke:#f00;stroke-width:0.45px">⁄</text>
<text x="739.20" y="178.05" font-size="19.20" font-weight="700" fill="#f00" class="r" textLength="22.00" lengthAdjust="spacingAndGlyphs">21</text>
<rect x="683.80" y="227.90" width="107.90" height="1.15" fill="#000"/>
<text x="660.50" y="224.55" font-size="13.00" textLength="10.84" lengthAdjust="spacingAndGlyphs">3.</text>
<text x="715.03" y="209.85" font-size="19.20" font-weight="700" fill="#f00" class="r" textLength="8.13" lengthAdjust="spacingAndGlyphs">1</text>
<text transform="translate(726.60,218.25) scale(0.889,1)" x="2.86" y="0" font-size="15.55" font-weight="700" fill="#f00" style="stroke:#f00;stroke-width:0.45px">⁄</text>
<text x="739.20" y="222.85" font-size="19.20" font-weight="700" fill="#f00" class="r" textLength="22.00" lengthAdjust="spacingAndGlyphs">21</text>
<rect x="683.80" y="272.70" width="107.90" height="1.15" fill="#000"/>
<text x="660.70" y="269.35" font-size="13.00" textLength="10.84" lengthAdjust="spacingAndGlyphs">4.</text>
<text x="715.03" y="254.65" font-size="19.20" font-weight="700" fill="#f00" class="r" textLength="8.13" lengthAdjust="spacingAndGlyphs">1</text>
<text transform="translate(726.60,263.05) scale(0.889,1)" x="2.86" y="0" font-size="15.55" font-weight="700" fill="#f00" style="stroke:#f00;stroke-width:0.45px">⁄</text>
<text x="739.20" y="267.65" font-size="19.20" font-weight="700" fill="#f00" class="r" textLength="22.00" lengthAdjust="spacingAndGlyphs">14</text>
<rect x="683.80" y="317.50" width="107.90" height="1.15" fill="#000"/>
<text x="660.48" y="314.15" font-size="13.00" textLength="10.84" lengthAdjust="spacingAndGlyphs">5.</text>
<text x="715.03" y="299.45" font-size="19.20" font-weight="700" fill="#f00" class="r" textLength="8.13" lengthAdjust="spacingAndGlyphs">1</text>
<text transform="translate(726.60,307.85) scale(0.889,1)" x="2.86" y="0" font-size="15.55" font-weight="700" fill="#f00" style="stroke:#f00;stroke-width:0.45px">⁄</text>
<text x="739.20" y="312.45" font-size="19.20" font-weight="700" fill="#f00" class="r" textLength="22.00" lengthAdjust="spacingAndGlyphs">24</text>
<rect x="683.80" y="362.30" width="107.90" height="1.15" fill="#000"/>
<text x="660.34" y="358.95" font-size="13.00" textLength="10.84" lengthAdjust="spacingAndGlyphs">6.</text>
<text x="715.03" y="344.25" font-size="19.20" font-weight="700" fill="#f00" class="r" textLength="8.13" lengthAdjust="spacingAndGlyphs">1</text>
<text transform="translate(726.60,352.65) scale(0.889,1)" x="2.86" y="0" font-size="15.55" font-weight="700" fill="#f00" style="stroke:#f00;stroke-width:0.45px">⁄</text>
<text x="739.20" y="357.25" font-size="19.20" font-weight="700" fill="#f00" class="r" textLength="22.00" lengthAdjust="spacingAndGlyphs">16</text>
<rect x="683.80" y="407.10" width="107.90" height="1.15" fill="#000"/>
<text x="660.33" y="403.75" font-size="13.00" textLength="10.84" lengthAdjust="spacingAndGlyphs">7.</text>
<text x="715.03" y="389.05" font-size="19.20" font-weight="700" fill="#f00" class="r" textLength="8.13" lengthAdjust="spacingAndGlyphs">1</text>
<text transform="translate(726.60,397.45) scale(0.889,1)" x="2.86" y="0" font-size="15.55" font-weight="700" fill="#f00" style="stroke:#f00;stroke-width:0.45px">⁄</text>
<text x="739.20" y="402.05" font-size="19.20" font-weight="700" fill="#f00" class="r" textLength="22.00" lengthAdjust="spacingAndGlyphs">32</text>
<rect x="683.80" y="451.90" width="107.90" height="1.15" fill="#000"/>
<text x="660.44" y="448.55" font-size="13.00" textLength="10.84" lengthAdjust="spacingAndGlyphs">8.</text>
<text x="715.03" y="433.85" font-size="19.20" font-weight="700" fill="#f00" class="r" textLength="8.13" lengthAdjust="spacingAndGlyphs">1</text>
<text transform="translate(726.60,442.25) scale(0.889,1)" x="2.86" y="0" font-size="15.55" font-weight="700" fill="#f00" style="stroke:#f00;stroke-width:0.45px">⁄</text>
<text x="739.20" y="446.85" font-size="19.20" font-weight="700" fill="#f00" class="r" textLength="22.00" lengthAdjust="spacingAndGlyphs">28</text>
<rect x="683.80" y="496.70" width="107.90" height="1.15" fill="#000"/>
<text x="660.39" y="493.35" font-size="13.00" textLength="10.84" lengthAdjust="spacingAndGlyphs">9.</text>
<text x="715.03" y="478.65" font-size="19.20" font-weight="700" fill="#f00" class="r" textLength="8.13" lengthAdjust="spacingAndGlyphs">1</text>
<text transform="translate(726.60,487.05) scale(0.889,1)" x="2.86" y="0" font-size="15.55" font-weight="700" fill="#f00" style="stroke:#f00;stroke-width:0.45px">⁄</text>
<text x="739.20" y="491.65" font-size="19.20" font-weight="700" fill="#f00" class="r" textLength="22.00" lengthAdjust="spacingAndGlyphs">25</text>
<rect x="683.80" y="541.50" width="107.90" height="1.15" fill="#000"/>
<text x="659.95" y="538.15" font-size="13.00" textLength="19.16" lengthAdjust="spacingAndGlyphs">10.</text>
<text x="715.03" y="523.45" font-size="19.20" font-weight="700" fill="#f00" class="r" textLength="8.13" lengthAdjust="spacingAndGlyphs">1</text>
<text transform="translate(726.60,531.85) scale(0.889,1)" x="2.86" y="0" font-size="15.55" font-weight="700" fill="#f00" style="stroke:#f00;stroke-width:0.45px">⁄</text>
<text x="739.20" y="536.45" font-size="19.20" font-weight="700" fill="#f00" class="r" textLength="22.00" lengthAdjust="spacingAndGlyphs">20</text>
<rect x="683.80" y="586.30" width="107.90" height="1.15" fill="#000"/>
<text x="659.95" y="582.95" font-size="13.00" textLength="19.16" lengthAdjust="spacingAndGlyphs">11.</text>
<text x="715.03" y="568.25" font-size="19.20" font-weight="700" fill="#f00" class="r" textLength="8.13" lengthAdjust="spacingAndGlyphs">1</text>
<text transform="translate(726.60,576.65) scale(0.889,1)" x="2.86" y="0" font-size="15.55" font-weight="700" fill="#f00" style="stroke:#f00;stroke-width:0.45px">⁄</text>
<text x="739.20" y="581.25" font-size="19.20" font-weight="700" fill="#f00" class="r" textLength="22.00" lengthAdjust="spacingAndGlyphs">49</text>
<rect x="683.80" y="631.10" width="107.90" height="1.15" fill="#000"/>
<text x="659.95" y="627.75" font-size="13.00" textLength="19.16" lengthAdjust="spacingAndGlyphs">12.</text>
<text x="715.03" y="613.05" font-size="19.20" font-weight="700" fill="#f00" class="r" textLength="8.13" lengthAdjust="spacingAndGlyphs">1</text>
<text transform="translate(726.60,621.45) scale(0.889,1)" x="2.86" y="0" font-size="15.55" font-weight="700" fill="#f00" style="stroke:#f00;stroke-width:0.45px">⁄</text>
<text x="739.20" y="626.05" font-size="19.20" font-weight="700" fill="#f00" class="r" textLength="22.00" lengthAdjust="spacingAndGlyphs">48</text>
<rect x="24.10" y="994.80" width="143.60" height="36.00" fill="#000"/>
<rect x="27.2" y="998.9" width="137.7" height="29.5" rx="14.75" ry="14.75" fill="#fff"/>
<text x="71.28" y="1020.30" font-size="20.50" font-weight="700" textLength="49.64" lengthAdjust="spacingAndGlyphs">Math</text>
<rect x="167.00" y="994.90" width="625.20" height="2.00" fill="#000"/>
<text x="174.32" y="1027.50" font-size="14.50" textLength="204.95" lengthAdjust="spacingAndGlyphs">www.CommonCoreSheets.com</text>
<text x="435.84" y="1022.20" font-size="30.00" textLength="14.32" lengthAdjust="spacingAndGlyphs">1</text>
<rect x="565.15" y="996.00" width="226.50" height="17.50" fill="#fff"/>
<rect x="678.40" y="996.00" width="113.25" height="17.50" fill="#d0e0fb"/>
<rect x="565.15" y="1013.40" width="45.30" height="17.10" fill="#d0e0fb"/>
<rect x="564.53" y="996.00" width="1.25" height="17.90" fill="#000"/>
<rect x="587.18" y="996.00" width="1.25" height="17.90" fill="#000"/>
<rect x="609.83" y="996.00" width="1.25" height="17.90" fill="#000"/>
<rect x="632.48" y="996.00" width="1.25" height="17.90" fill="#000"/>
<rect x="655.13" y="996.00" width="1.25" height="17.90" fill="#000"/>
<rect x="677.78" y="996.00" width="1.25" height="17.90" fill="#000"/>
<rect x="700.43" y="996.00" width="1.25" height="17.90" fill="#000"/>
<rect x="723.08" y="996.00" width="1.25" height="17.90" fill="#000"/>
<rect x="745.73" y="996.00" width="1.25" height="17.90" fill="#000"/>
<rect x="768.38" y="996.00" width="1.25" height="17.90" fill="#000"/>
<rect x="791.03" y="996.00" width="1.25" height="17.90" fill="#000"/>
<rect x="564.53" y="1013.00" width="1.25" height="18.00" fill="#000"/>
<rect x="587.18" y="1013.00" width="1.25" height="18.00" fill="#000"/>
<rect x="609.83" y="1013.00" width="1.25" height="18.00" fill="#000"/>
<rect x="564.53" y="1012.85" width="227.75" height="1.25" fill="#000"/>
<rect x="564.53" y="1029.85" width="46.55" height="1.25" fill="#000"/>
<text x="569.51" y="1009.50" font-size="13.80" textLength="13.97" lengthAdjust="spacingAndGlyphs">92</text>
<text x="592.14" y="1009.50" font-size="13.80" textLength="13.97" lengthAdjust="spacingAndGlyphs">83</text>
<text x="614.73" y="1009.50" font-size="13.80" textLength="13.97" lengthAdjust="spacingAndGlyphs">75</text>
<text x="637.44" y="1009.50" font-size="13.80" textLength="13.97" lengthAdjust="spacingAndGlyphs">67</text>
<text x="660.11" y="1009.50" font-size="13.80" textLength="13.97" lengthAdjust="spacingAndGlyphs">58</text>
<text x="682.73" y="1009.50" font-size="13.80" textLength="13.97" lengthAdjust="spacingAndGlyphs">50</text>
<text x="705.56" y="1009.50" font-size="13.80" textLength="13.97" lengthAdjust="spacingAndGlyphs">42</text>
<text x="728.08" y="1009.50" font-size="13.80" textLength="13.97" lengthAdjust="spacingAndGlyphs">33</text>
<text x="750.64" y="1009.50" font-size="13.80" textLength="13.97" lengthAdjust="spacingAndGlyphs">25</text>
<text x="773.18" y="1009.50" font-size="13.80" textLength="13.97" lengthAdjust="spacingAndGlyphs">17</text>
<text x="572.83" y="1026.80" font-size="13.80" textLength="7.29" lengthAdjust="spacingAndGlyphs">8</text>
<text x="595.48" y="1026.80" font-size="13.80" textLength="7.29" lengthAdjust="spacingAndGlyphs">0</text>
<text x="534.41" y="1009.50" font-size="13.80" textLength="23.34" lengthAdjust="spacingAndGlyphs">1-10</text>
<text x="530.78" y="1026.80" font-size="13.80" textLength="30.82" lengthAdjust="spacingAndGlyphs">11-12</text>
</svg>
</body></html>
